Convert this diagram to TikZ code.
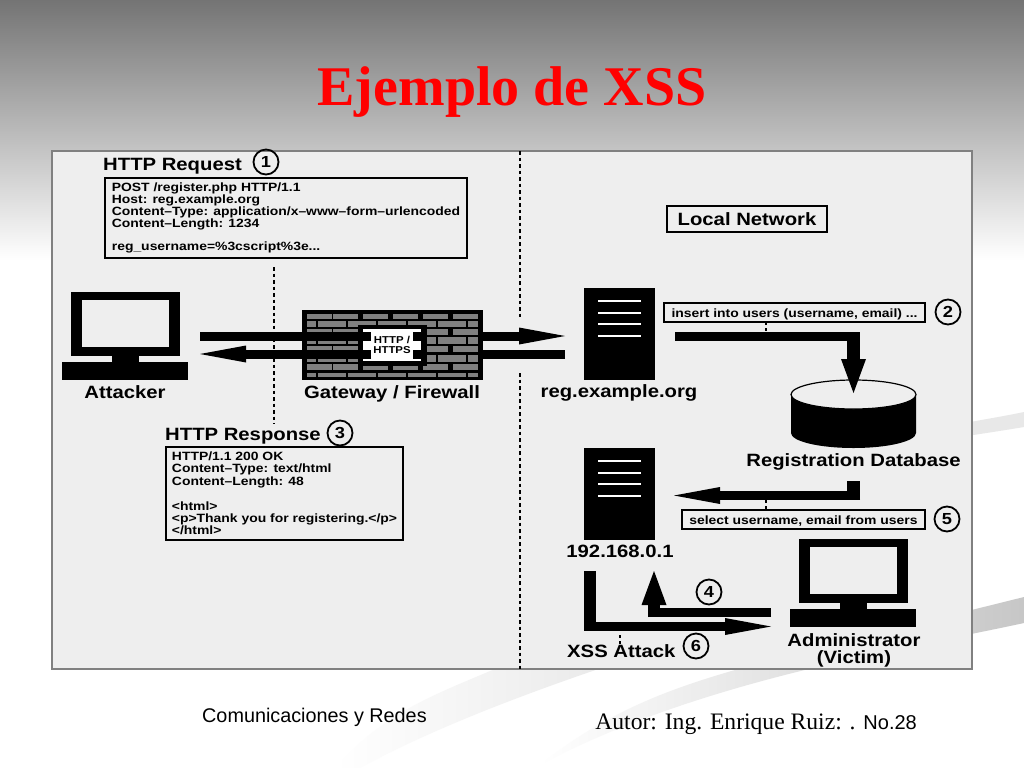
\documentclass[tikz,border=0pt]{standalone}
\usepackage{fontspec}
\setmainfont{Liberation Serif}
\newfontface\labelface[FakeStretch=1.14]{Liberation Sans Bold}
\newfontface\smallface[FakeStretch=1.16]{Liberation Sans Bold}
\newfontface\footface{Liberation Sans}
\usetikzlibrary{arrows.meta}
\definecolor{panelgray}{HTML}{EEEEEE}
\definecolor{brickgray}{HTML}{808080}
\definecolor{skygray}{HTML}{747474}
\newcommand{\lblfont}{\labelface\fontsize{17.8}{17.8}\selectfont}
\newcommand{\msgfont}{\smallface\fontsize{12}{12}\selectfont}
\tikzset{
    msgbox/.style={draw=black, line width=2pt, fill=panelgray, inner sep=0pt, align=left},
    tagbox/.style={draw=black, line width=1.6pt, fill=panelgray, inner sep=0pt, align=center},
    lbl/.style={inner sep=0pt, align=center},
    stepmark/.style={draw=black, line width=1.8pt, circle, minimum size=25pt, inner sep=0pt, font=\labelface\fontsize{16}{16}\selectfont},
    flowline/.style={line width=9pt},
    flowarrow/.style={line width=9pt, -{Triangle[length=46pt, width=17pt, line width=0pt]}},
    riser/.style={line width=12.5pt},
    riserarrow/.style={line width=12.5pt, -{Triangle[length=34pt, width=25pt, line width=0pt]}},
    stub/.style={line width=1.5pt, dash pattern=on 3pt off 3pt},
    border/.style={line width=2pt, dash pattern=on 3.5pt off 3pt},
    computer/.pic={
        \fill (0, 0) rectangle (109, 64);
        \fill[panelgray] (11, 8) rectangle (98, 55);
        \fill (41, 64) rectangle (68, 70);
        \fill (-9, 70) rectangle (117, 88);
    },
    server/.pic={
        \fill (0, 0) rectangle (71, 92);
        \foreach \y in {13, 25, 36, 48} {
            \fill[white] (14, \y - 1.2) rectangle (57, \y + 1.2);
        }
    }
}

\begin{document}
\begin{tikzpicture}[x=1pt, y=-1pt]
    \useasboundingbox (0, 0) rectangle (1024, 768);

    \fill[white] (0, 0) rectangle (1024, 768);
    \shade[top color=skygray, bottom color=white] (0, 0) rectangle (1024, 260);

    \shade[left color=white, right color=black!9] (335, 768) .. controls (390, 705) and (450, 690) .. (515, 660) -- (625, 660) .. controls (520, 695) and (430, 730) .. (360, 768) -- cycle;
    \shade[left color=white, right color=black!22] (540, 765) .. controls (620, 700) and (700, 680) .. (770, 660) -- (1024, 597) -- (1024, 623) .. controls (900, 650) and (700, 680) .. (540, 765) -- cycle;
    \fill[black!9] (960, 424) .. controls (980, 420) and (1000, 417) .. (1024, 412) -- (1024, 427) .. controls (1000, 431) and (980, 434) .. (960, 437) -- cycle;

    \draw[black!50, line width=1.5pt, fill=panelgray] (52, 151) rectangle (972, 669);

    \node[lbl, anchor=base, text=red, font=\fontsize{56}{56}\bfseries\selectfont] (title) at (512, 105) {Ejemplo de XSS};
    \node[lbl, anchor=west, font=\footface\fontsize{19.8}{20}\selectfont] (course) at (202, 717) {Comunicaciones y Redes};
    \node[lbl, anchor=base east, font=\fontsize{23.6}{24}\selectfont] (author) at (917, 729) {Autor: Ing. Enrique Ruiz: . {\footface\fontsize{20}{20}\selectfont No.28}};

    \coordinate (edgetop) at (519.5, 151);
    \coordinate (edgegate) at (519.5, 318);
    \coordinate (edgegatelow) at (519.5, 373);
    \coordinate (edgelow) at (519.5, 669);
    \coordinate (wantop) at (273.5, 267);
    \coordinate (wanlow) at (273.5, 424);
    \draw[border] (edgetop) -- (edgegate);
    \draw[border] (edgegatelow) -- (edgelow);
    \draw[border] (wantop) -- (wanlow);

    \node[lbl, anchor=west, font=\lblfont] (reqtitle) at (103, 166) {HTTP Request};
    \node[stepmark] (stepone) at (266, 162) {1};
    \node[msgbox, minimum width=362pt, minimum height=80pt, font=\msgfont] (reqbox) at (286, 218) {POST /register.php HTTP/1.1\\Host: reg.example.org\\Content–Type: application/x–www–form–urlencoded\\Content–Length: 1234\\[11pt]reg\_username=\%3cscript\%3e...};

    \node[lbl, anchor=west, font=\lblfont] (resptitle) at (165, 436) {HTTP Response};
    \node[stepmark] (stepthree) at (340, 433) {3};
    \node[msgbox, minimum width=237pt, minimum height=93pt, font=\smallface\fontsize{12}{12.4}\selectfont] (respbox) at (284.5, 493.5) {HTTP/1.1 200 OK\\Content–Type: text/html\\Content–Length: 48\\[12.4pt]<html>\\<p>Thank you for registering.</p>\\</html>};

    \pic at (71, 292) {computer};
    \node[lbl, font=\lblfont] (attacker) at (125, 392) {Attacker};

    \fill (302, 310) rectangle (483, 380);
    \foreach \top/\high [count=\row] in {314/4.5, 320.5/6.5, 328.5/6.5, 337/6.5, 345.5/6.5, 355/6.5, 364/6, 372.5/4} {
        \ifodd\row
            \foreach \x in {307, 333, 363, 393, 423, 453} {
                \fill[brickgray] (\x, \top) rectangle ++(25, \high);
            }
        \else
            \foreach \x/\wide in {307/9, 318/28, 348/28, 378/28, 408/28, 438/28, 468/10} {
                \fill[brickgray] (\x, \top) rectangle ++(\wide, \high);
            }
        \fi
    }
    \fill (358, 325) rectangle (427, 366);
    \fill[white] (363, 329) rectangle (421, 361);
    \node[lbl, font=\labelface\fontsize{10}{10}\selectfont] (proto) at (392, 345) {HTTP /\\HTTPS};
    \node[lbl, font=\lblfont] (gateway) at (392, 394) {Gateway / Firewall};

    \coordinate (attackout) at (200, 336);
    \coordinate (gateinleft) at (371, 336);
    \coordinate (gateinright) at (413, 336);
    \coordinate (gateinframe) at (427, 336);
    \coordinate (gateinwall) at (483, 336);
    \coordinate (regin) at (565, 336);
    \coordinate (regout) at (565, 354);
    \coordinate (gateoutwall) at (483, 354);
    \coordinate (gateoutframe) at (427, 354);
    \coordinate (gateoutright) at (413, 354);
    \coordinate (gateoutleft) at (371, 354);
    \coordinate (attackin) at (200, 354);
    \draw[flowline] (attackout) -- (gateinleft);
    \draw[flowline] (gateinright) -- (gateinframe);
    \draw[flowarrow] (gateinwall) -- (regin);
    \draw[flowline] (regout) -- (gateoutwall);
    \draw[flowline] (gateoutframe) -- (gateoutright);
    \draw[flowarrow] (gateoutleft) -- (attackin);

    \node[tagbox, minimum width=160pt, minimum height=26pt, font=\lblfont] (localnet) at (747, 219) {Local Network};

    \pic at (584, 288) {server};
    \node[lbl, font=\lblfont] (regname) at (619, 393) {reg.example.org};

    \node[tagbox, minimum width=261pt, minimum height=19pt, text height=10pt, text depth=1pt, font=\msgfont] (insertbox) at (794.5, 312.5) {insert into users (username, email) ...};
    \node[stepmark] (steptwo) at (948, 312) {2};

    \fill (791, 394.5) -- (791, 433) arc[start angle=180, end angle=360, x radius=62.5, y radius=-15] -- (916, 394.5) -- cycle;
    \draw[fill=panelgray, line width=1.2pt] (853.5, 394.5) ellipse[x radius=62.5, y radius=14.5];
    \node[lbl, font=\lblfont] (dbname) at (853.5, 462) {Registration Database};

    \coordinate (insertstart) at (675, 336.5);
    \coordinate (insertbend) at (853.5, 336.5);
    \coordinate (inserttop) at (853.5, 332);
    \coordinate (dbin) at (853.5, 393);
    \draw[stub] (766, 322) -- (766, 333);
    \draw[flowline] (insertstart) -- (insertbend);
    \draw[riserarrow] (inserttop) -- (dbin);

    \pic at (584, 448) {server};
    \node[lbl, font=\lblfont] (hostname) at (620, 551) {192.168.0.1};

    \coordinate (selecttop) at (853.5, 481);
    \coordinate (selectbend) at (853.5, 500);
    \coordinate (selectrun) at (860, 495.5);
    \coordinate (selectend) at (674, 495.5);
    \draw[riser] (selecttop) -- (selectbend);
    \draw[flowarrow] (selectrun) -- (selectend);
    \draw[stub] (766, 500) -- (766, 510);
    \node[tagbox, minimum width=243pt, minimum height=19pt, text height=10pt, text depth=1pt, font=\msgfont] (selectbox) at (803.5, 519.5) {select username, email from users};
    \node[stepmark] (stepfive) at (947, 519) {5};

    \pic at (799, 539) {computer};
    \node[lbl, font=\labelface\fontsize{17.8}{17}\selectfont] (admin) at (854, 650) {Administrator\\(Victim)};

    \coordinate (victimout) at (771, 612.5);
    \coordinate (upbend) at (654, 612.5);
    \coordinate (uplow) at (654, 617);
    \coordinate (hostin) at (654, 571);
    \draw[flowline] (victimout) -- (upbend);
    \draw[riserarrow] (uplow) -- (hostin);
    \node[stepmark] (stepfour) at (709, 592) {4};

    \coordinate (hostout) at (590, 571);
    \coordinate (xssbend) at (590, 631);
    \coordinate (xssrun) at (584, 626.5);
    \coordinate (victimin) at (771, 626.5);
    \draw[riser] (hostout) -- (xssbend);
    \draw[flowarrow] (xssrun) -- (victimin);
    \draw[stub] (620, 635) -- (620, 645);
    \node[lbl, anchor=west, font=\lblfont] (xsslabel) at (567, 651) {XSS Attack};
    \node[stepmark] (stepsix) at (696, 646) {6};
\end{tikzpicture}
\end{document}
